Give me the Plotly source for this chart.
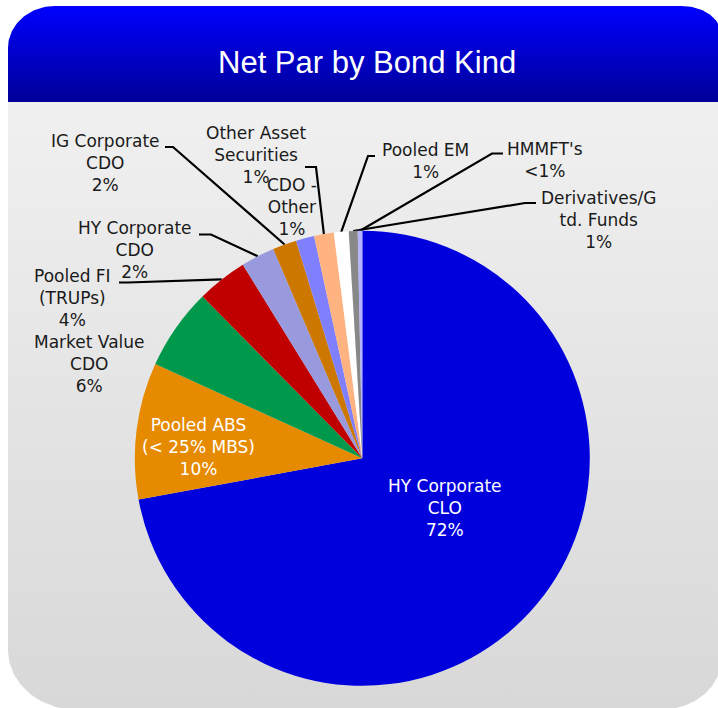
import numpy as np
import plotly.graph_objects as go

W, H = 718, 708

# Net par share by bond kind (percent), clockwise from 12 o'clock
kinds = [
    "HY Corporate CLO", "Pooled ABS (< 25% MBS)", "Market Value CDO",
    "Pooled FI (TRUPs)", "HY Corporate CDO", "IG Corporate CDO",
    "CDO - Other", "Other Asset Securities", "Pooled EM",
    "Derivatives/Gtd. Funds", "HMMFT's",
]
kind_labels = [
    "HY Corporate<br>CLO", "Pooled ABS<br>(< 25% MBS)", "Market Value<br>CDO",
    "Pooled FI<br>(TRUPs)", "HY Corporate<br>CDO", "IG Corporate<br>CDO",
    "CDO -<br>Other", "Other Asset<br>Securities", "Pooled EM",
    "Derivatives/G<br>td. Funds", "HMMFT's",
]
net_par_pct = [72.1, 9.7, 5.8, 3.6, 2.4, 1.7, 1.3, 1.4, 1.05, 0.63, 0.32]
slice_colors = [
    "#0000DD", "#E68A00", "#00994C", "#C00000", "#9999DD", "#CC7700",
    "#8080FF", "#FFB380", "#FFFFFF", "#888888", "#B3B3FF",
]

# Pie geometry in pixel units
CX, CY, R = 362.3, 458.3, 227.5

# Label placement: text centre, text colour, leader line (start, elbow) or None
label_layout = {
    "HY Corporate CLO":       ((445, 508), "white", None),
    "Pooled ABS (< 25% MBS)": ((198, 447), "white", None),
    "Market Value CDO":       ((89, 364), "#1a1a1a", None),
    "Pooled FI (TRUPs)":      ((72, 298), "#1a1a1a", ((119, 282.5), (128, 282.5))),
    "HY Corporate CDO":       ((135, 250), "#1a1a1a", ((199, 234.5), (211, 234.5))),
    "IG Corporate CDO":       ((105, 163), "#1a1a1a", ((165, 147), (173, 147))),
    "CDO - Other":            ((292, 207), "#1a1a1a", None),
    "Other Asset Securities": ((256, 155), "#1a1a1a", ((305, 167), (316, 167))),
    "Pooled EM":              ((425, 161), "#1a1a1a", ((375, 156), (368, 156))),
    "Derivatives/Gtd. Funds": ((598, 219.5), "#1a1a1a", ((536, 203), (525, 203))),
    "HMMFT's":                ((545, 160), "#1a1a1a", ((503, 153.5), (492, 153.5))),
}


def rounded_box(x0, x1, y0, y1, tl, tr, br, bl, n=40):
    """Polygon of a box with elliptical corners (rx, ry); y grows downward."""
    pts = []

    def arc(cx, cy, rx, ry, a0, a1):
        t = np.linspace(a0, a1, n)
        return list(zip(cx + rx * np.cos(t), cy + ry * np.sin(t)))

    if tl:
        pts += arc(x0 + tl[0], y0 + tl[1], tl[0], tl[1], np.pi, 1.5 * np.pi)
    else:
        pts.append((x0, y0))
    if tr:
        pts += arc(x1 - tr[0], y0 + tr[1], tr[0], tr[1], 1.5 * np.pi, 2 * np.pi)
    else:
        pts.append((x1, y0))
    if br:
        pts += arc(x1 - br[0], y1 - br[1], br[0], br[1], 0, 0.5 * np.pi)
    else:
        pts.append((x1, y1))
    if bl:
        pts += arc(x0 + bl[0], y1 - bl[1], bl[0], bl[1], 0.5 * np.pi, np.pi)
    else:
        pts.append((x0, y1))
    pts.append(pts[0])
    xs, ys = zip(*pts)
    return list(xs), list(ys)


fig = go.Figure()

# Panel body with light grey vertical gradient
bx, by = rounded_box(8, 721, 6, 710, (47, 42), (40, 28), (62, 50), (70, 60))
fig.add_trace(go.Scatter(
    x=bx, y=by, mode="lines", fill="toself", line=dict(width=0),
    fillgradient=dict(type="vertical", colorscale=[[0, "#F0F0F0"], [1, "#D8D8D8"]],
                      start=102, stop=710),
    hoverinfo="skip", showlegend=False,
))

# Blue title band
hx, hy = rounded_box(8, 721, 6, 102, (47, 42), (40, 28), None, None)
fig.add_trace(go.Scatter(
    x=hx, y=hy, mode="lines", fill="toself", line=dict(width=0),
    fillgradient=dict(type="vertical", colorscale=[[0, "#0000FF"], [1, "#000098"]],
                      start=6, stop=102),
    hoverinfo="skip", showlegend=False,
))

# Leader lines from labels to the middle of each slice's rim
total = float(sum(net_par_pct))
cum = 0.0
annotations = []
for kind, lab, v in zip(kinds, kind_labels, net_par_pct):
    share = v / total * 100
    mid = (cum + v / 2) / total
    cum += v
    theta = 2 * np.pi * mid
    ex, ey = CX + R * np.sin(theta), CY - R * np.cos(theta)
    (tx, ty), tcol, leader = label_layout[kind]
    if leader is not None:
        (sx, sy), (kx, ky) = leader
        fig.add_trace(go.Scatter(
            x=[sx, kx, ex], y=[sy, ky, ey], mode="lines",
            line=dict(color="black", width=2.2), hoverinfo="skip", showlegend=False,
        ))
    pct_text = "<1%" if share < 0.5 else f"{round(share)}%"
    annotations.append(dict(
        x=tx, y=ty, xref="x", yref="y", text=f"{lab}<br>{pct_text}",
        showarrow=False, xanchor="center", yanchor="middle", align="center",
        font=dict(family="DejaVu Sans", size=17, color=tcol),
    ))

fig.add_trace(go.Pie(
    values=net_par_pct, labels=kinds, sort=False, direction="clockwise", rotation=0,
    marker=dict(colors=slice_colors, line=dict(width=0)),
    textinfo="none", hoverinfo="label+percent", showlegend=False,
    domain=dict(x=[(CX - R) / W, (CX + R) / W],
                y=[1 - (CY + R) / H, 1 - (CY - R) / H]),
))

annotations.append(dict(
    x=367, y=62, xref="x", yref="y", text="Net Par by Bond Kind", showarrow=False,
    xanchor="center", yanchor="middle",
    font=dict(family="Liberation Sans", size=31, color="white"),
))

fig.update_layout(
    width=W, height=H, margin=dict(l=0, r=0, t=0, b=0),
    paper_bgcolor="white", plot_bgcolor="rgba(0,0,0,0)",
    xaxis=dict(range=[0, W], visible=False, fixedrange=True, domain=[0, 1]),
    yaxis=dict(range=[H, 0], visible=False, fixedrange=True, domain=[0, 1]),
    annotations=annotations,
)

fig.write_html("out.html", config={"displayModeBar": False})
